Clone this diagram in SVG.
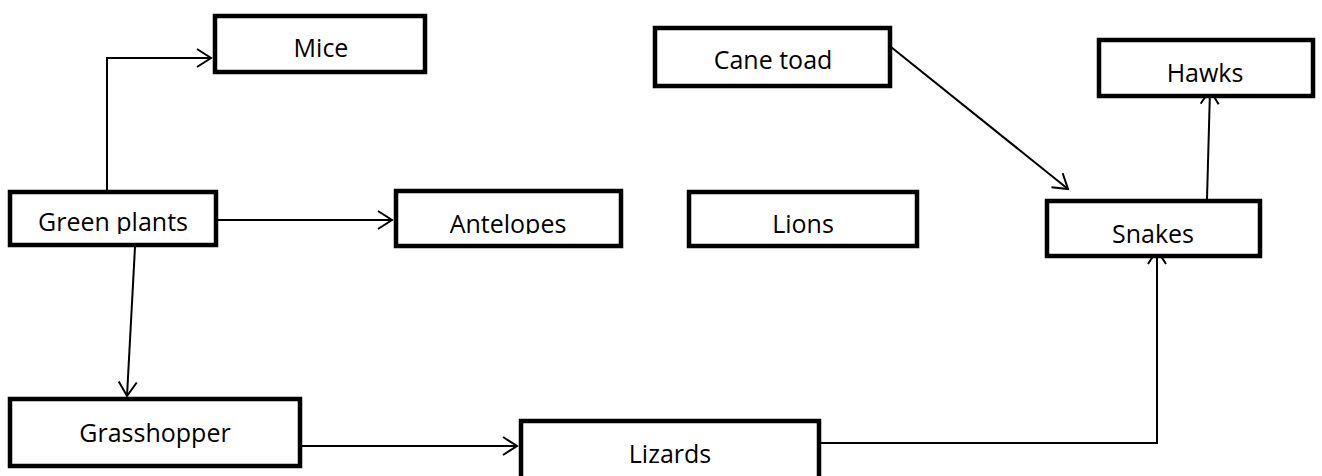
<svg xmlns="http://www.w3.org/2000/svg" width="1322" height="476" viewBox="0 0 1322 476">
<style>
.box{fill:#fff;stroke:#000;stroke-width:4.5}
.lbl{font-family:"Open Sans","Liberation Sans",sans-serif;font-size:25px;fill:#000;text-anchor:middle}
.conn{fill:none;stroke:#000;stroke-width:2}
</style>
<defs>
<marker id="arr" viewBox="0 0 17 20" refX="15" refY="10" markerWidth="17" markerHeight="20" markerUnits="userSpaceOnUse" orient="auto">
<path d="M1,1 L15,10 L1,19" fill="none" stroke="#000" stroke-width="2"/>
</marker>
<clipPath id="clipGP"><rect x="0" y="190" width="230" height="44"/></clipPath>
<clipPath id="clipAn"><rect x="390" y="189" width="240" height="45"/></clipPath>
</defs>
<rect width="1322" height="476" fill="#fff"/>
<g id="connectors">
<path class="conn" d="M107,190 L107,58 L211,58" marker-end="url(#arr)"/>
<path class="conn" d="M218,220 L392,220" marker-end="url(#arr)"/>
<path class="conn" d="M135,247 L127,396" marker-end="url(#arr)"/>
<path class="conn" d="M302,446 L517,446" marker-end="url(#arr)"/>
<path class="conn" d="M821,443 L1157,443 L1157,250" marker-end="url(#arr)"/>
<path class="conn" d="M881,39 L1068,189" marker-end="url(#arr)"/>
<path class="conn" d="M1207,199 L1210,90" marker-end="url(#arr)"/>
</g>
<g id="mice"><rect class="box" x="215" y="16" width="210" height="56"/><text class="lbl" x="321" y="57">Mice</text></g>
<g id="green-plants"><rect class="box" x="10" y="192" width="206" height="53"/><text class="lbl" x="113" y="231" clip-path="url(#clipGP)">Green plants</text></g>
<g id="antelopes"><rect class="box" x="396" y="191" width="225" height="55"/><text class="lbl" x="508" y="233" clip-path="url(#clipAn)">Antelopes</text></g>
<g id="lions"><rect class="box" x="689" y="192" width="228" height="54"/><text class="lbl" x="803" y="233">Lions</text></g>
<g id="cane-toad"><rect class="box" x="655" y="28" width="235" height="58"/><text class="lbl" x="773" y="69">Cane toad</text></g>
<g id="hawks"><rect class="box" x="1099" y="40" width="214" height="56"/><text class="lbl" x="1205" y="82">Hawks</text></g>
<g id="snakes"><rect class="box" x="1047" y="201" width="213" height="55"/><text class="lbl" x="1153" y="243">Snakes</text></g>
<g id="grasshopper"><rect class="box" x="10" y="399" width="290" height="67"/><text class="lbl" x="155" y="442">Grasshopper</text></g>
<g id="lizards"><rect class="box" x="521" y="421" width="298" height="70"/><text class="lbl" x="670" y="463">Lizards</text></g>
</svg>
